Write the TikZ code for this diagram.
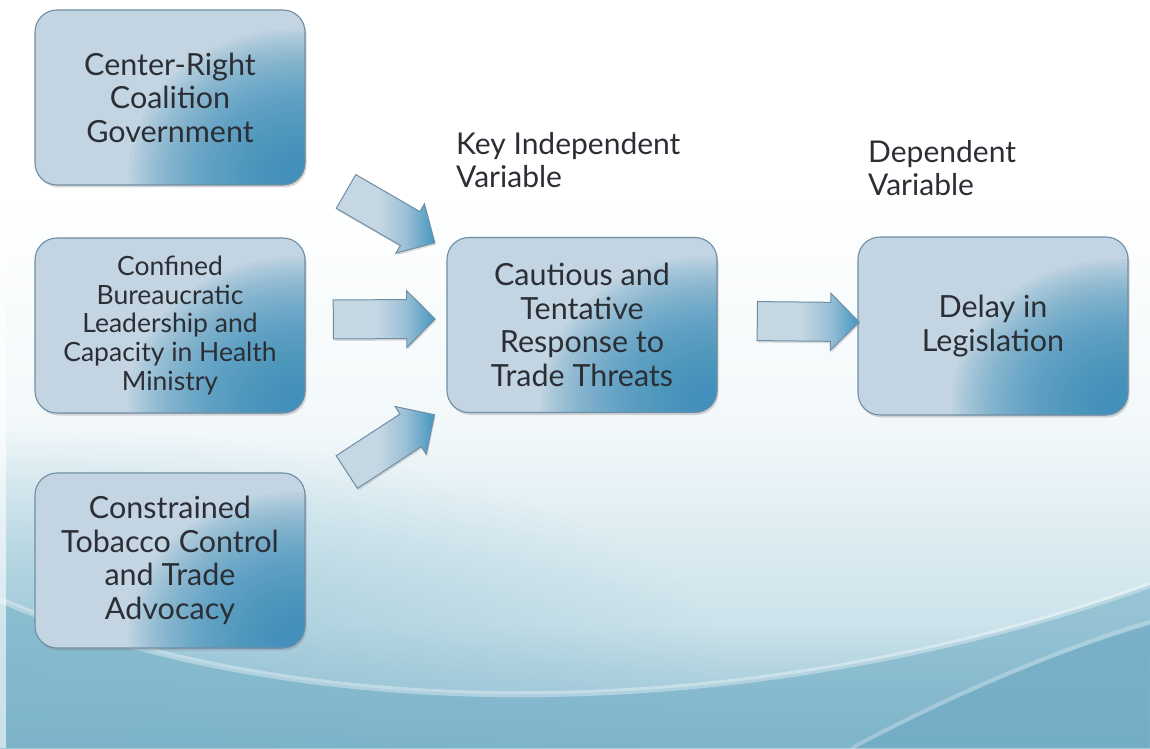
\documentclass[tikz,border=0pt]{standalone}
\usepackage{fontspec}
\setmainfont{Lato}
\usetikzlibrary{shapes.arrows,calc,shadows,fadings}
\definecolor{txt}{HTML}{2B2F35}
\definecolor{boxbase}{HTML}{C3D5E2}
\definecolor{boxdark}{HTML}{3A90BC}
\definecolor{boxedge}{HTML}{6F8EA5}
\definecolor{al}{HTML}{C6D7E4}
\definecolor{am}{HTML}{9CC0D6}
\definecolor{ad}{HTML}{4496C0}
\definecolor{bgtop}{HTML}{FFFFFF}
\definecolor{bgmid}{HTML}{F2F8FA}
\definecolor{bglow}{HTML}{B3D5E1}
\definecolor{leftblue}{HTML}{96C4D6}
\definecolor{wave}{HTML}{82B8CD}
\definecolor{wavedark}{HTML}{70AAC4}
\pgfdeclarehorizontalshading{arrowsh}{100bp}{color(0bp)=(al); color(25bp)=(al); color(46bp)=(al); color(60bp)=(am); color(75bp)=(ad); color(100bp)=(ad)}
\tikzfading[name=fadeU, bottom color=transparent!0, top color=transparent!100]
\tikzfading[name=fadeC, inner color=transparent!0, outer color=transparent!100]
\tikzset{
  box/.style={draw=boxedge, line width=1.1pt, rounded corners=22pt,
    minimum width=270pt, minimum height=175pt, inner sep=0pt, align=center,
    fill=boxbase, text=txt, font=\fontsize{30.5}{33.5}\selectfont,
    drop shadow={opacity=0.3, shadow xshift=1.5pt, shadow yshift=-2.5pt},
    path picture={
      \coordinate (gc) at ($(path picture bounding box.south east)+(-8,12)$);
      \foreach \k in {1,...,40}{\fill[boxdark, fill opacity=0.055] (gc) ellipse [x radius={4.2*\k}, y radius={3.6*\k}];}
    }},
  smallbox/.style={box, font=\fontsize{26.5}{28.7}\selectfont},
  blockarrow/.style={single arrow, draw=boxedge, line width=1pt,
    minimum width=56pt, single arrow head extend=9pt, inner sep=0pt,
    text height=19pt, text depth=19pt, text width=0pt,
    shading=arrowsh, drop shadow={opacity=0.25, shadow xshift=1pt, shadow yshift=-2pt}},
  lab/.style={align=left, inner sep=0pt, text=txt, font=\fontsize{30}{33.5}\selectfont}
}
\newcommand{\blockarr}[3]{%
  \path let \p1=($(#2)-(#1)$), \n1={atan2(\y1,\x1)}, \n2={veclen(\x1,\y1)} in
    node[blockarrow, minimum height=\n2, rotate=\n1] (#3) at ($(#1)!0.5!(#2)$) {};}
\begin{document}
\begin{tikzpicture}[x=1pt,y=1pt]
\useasboundingbox (0,0) rectangle (1150,748);
% background
\fill[bgtop] (0,0) rectangle (1150,748);
\shade[top color=bgtop, bottom color=bgmid] (0,320) rectangle (1150,560);
\shade[top color=bgmid, bottom color=bglow] (0,0) rectangle (1150,320);
\begin{scope}
\clip (0,0) rectangle (1150,748);
\fill[leftblue, path fading=fadeC, fill opacity=0.9] (0,90) ellipse [x radius=720, y radius=230];
\end{scope}
\fill[wave, fill opacity=0.75] (0,0) -- (0,148) .. controls (300,20) and (750,20) .. (1150,163) -- (1150,0) -- cycle;
\fill[wavedark, fill opacity=0.5, path fading=fadeU] (0,0) rectangle (1150,120);
\fill[wavedark, fill opacity=0.7] (855,0) .. controls (960,55) and (1070,100) .. (1150,123) -- (1150,0) -- cycle;
\draw[white, opacity=0.35, line width=6pt] (0,148) .. controls (300,20) and (750,20) .. (1150,163);
\draw[white, opacity=0.25, line width=4pt] (852,0) .. controls (958,57) and (1068,102) .. (1150,126);
\fill[white, opacity=0.6] (0,0) rectangle (6,748);

% boxes
\node[box] (b1) at (170,650.5) {Center-Right\\Coalition\\Government};
\node[smallbox] (b2) at (170,422.5) {Confined\\Bureaucratic\\Leadership and\\Capacity in Health\\Ministry};
\node[box] (b3) at (170,187.5) {Constrained\\Tobacco Control\\and Trade\\Advocacy};
\node[box] (c) at (582,423) {Cautious and\\Tentative\\Response to\\Trade Threats};
\node[box, minimum height=178pt] (d) at (993,422) {Delay in\\Legislation};

% labels
\node[lab, anchor=north west] (kiv) at (456,616) {Key Independent\\Variable};
\node[lab, anchor=north west] (dv) at (868,608) {Dependent\\Variable};

% arrow end points
\coordinate (a1s) at ($(b1.south east)+(32,-1)$);
\coordinate (a1e) at ($(c.north west)+(-20,-1)$);
\coordinate (a2s) at ($(b2.east)+(18,6)$);
\coordinate (a2e) at ($(c.west)+(-21,6)$);
\coordinate (a3s) at ($(b3.north east)+(33,-5)$);
\coordinate (a3e) at ($(c.south west)+(-20,-7)$);
\coordinate (a4s) at ($(c.east)+(30,4)$);
\coordinate (a4e) at ($(d.west)+(-8,4)$);
\blockarr{a1s}{a1e}{ar1}
\blockarr{a2s}{a2e}{ar2}
\blockarr{a3s}{a3e}{ar3}
\blockarr{a4s}{a4e}{ar4}
\end{tikzpicture}
\end{document}
